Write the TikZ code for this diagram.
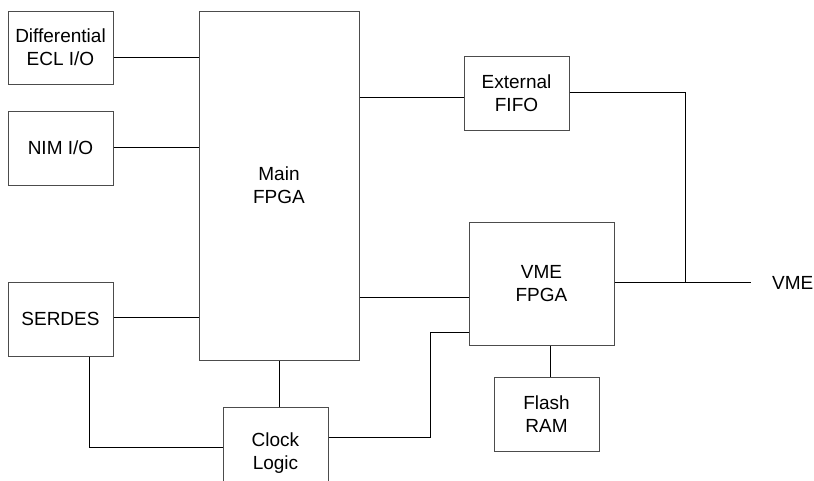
\documentclass[tikz,border=0pt]{standalone}
\usepackage{fontspec}
\setmainfont{Liberation Sans}
\begin{document}
\begin{tikzpicture}[x=1pt,y=-1pt,
  box/.style={draw=black!70, line width=1pt, inner sep=0pt, align=center,
    font=\fontsize{19}{23}\selectfont},
  wire/.style={draw=black, line width=0.9pt},
  lbl/.style={inner sep=0pt, align=center, font=\fontsize{19}{23}\selectfont}]
\useasboundingbox (0,0) rectangle (814,480);
\node[box, minimum width=105pt, minimum height=73pt] (ecl) at (60.5,47.5) {Differential\\ECL I/O};
\node[box, minimum width=105pt, minimum height=74pt] (nim) at (60.5,148) {NIM I/O};
\node[box, minimum width=105pt, minimum height=74pt] (serdes) at (60.5,319) {SERDES};
\node[box, minimum width=160pt, minimum height=349pt] (main) at (279,185.5) {Main\\FPGA};
\node[box, minimum width=105pt, minimum height=74pt] (fifo) at (516.5,93) {External\\FIFO};
\node[box, minimum width=145pt, minimum height=123pt] (vme) at (541.5,283.5) {VME\\FPGA};
\node[box, minimum width=105pt, minimum height=74pt] (flash) at (546.5,414) {Flash\\RAM};
\node[box, minimum width=105pt, minimum height=92pt] (clock) at (275.5,453) {Clock\\Logic};
\node[lbl, anchor=west] (vmelbl) at (772,283) {VME};
\coordinate (j) at (685,282);
\coordinate (vend) at (751,282);
\coordinate (k) at (430,332);
\draw[wire] (ecl.east |- 0,57) -- (main.west |- 0,57);
\draw[wire] (nim.east |- 0,147) -- (main.west |- 0,147);
\draw[wire] (serdes.east |- 0,317) -- (main.west |- 0,317);
\draw[wire] (main.east |- 0,97) -- (fifo.west |- 0,97);
\draw[wire] (main.east |- 0,297) -- (vme.west |- 0,297);
\draw[wire] (fifo.east |- 0,92) -| (j);
\draw[wire] (vme.east |- j) -- (vend);
\draw[wire] (main.south) -- (main.south |- clock.north);
\draw[wire] (serdes.south -| 89,0) |- (clock.west |- 0,447);
\draw[wire] (clock.east |- 0,437) -| (k) -- (vme.west |- k);
\draw[wire] (vme.south -| 550,0) -- (flash.north -| 550,0);
\end{tikzpicture}
\end{document}
